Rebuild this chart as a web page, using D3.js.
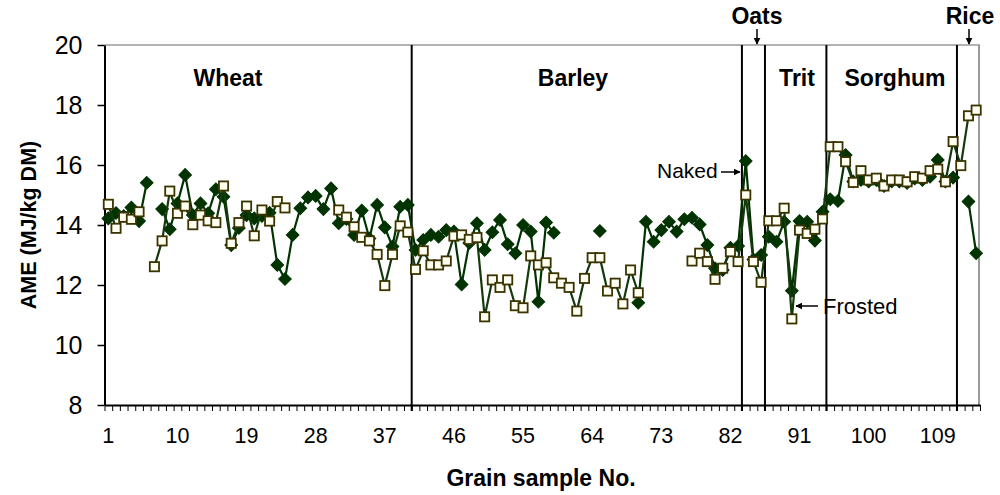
<!DOCTYPE html>
<html>
<head>
<meta charset="utf-8">
<script src="https://cdn.jsdelivr.net/npm/d3@7"></script>
<style>
  body { margin: 0; background: #fff; }
  svg { display: block; }
  text { font-family: "Liberation Sans", Arial, sans-serif; fill: #000; }
</style>
</head>
<body>
<svg id="chart" width="1000" height="495"></svg>
<script>
// Grain samples 1..114, grouped by grain type
const samples = d3.range(1, 115);

// AME (MJ/kg DM), filled-diamond series (null = no value)
const ameDiamond = [
  14.22, 14.40, 14.30, 14.58, 14.13, 15.41, null, 14.53, 13.86, 14.72,
  15.67, 14.33, 14.72, 14.39, 15.19, 14.94, 13.33, 13.90, 14.33, 14.22,
  14.30, 14.41, 12.67, 12.20, 13.67, 14.56, 14.92, 14.97, 14.53, 15.22,
  14.06, 14.20, 13.67, 14.48, 13.55, 14.67, 13.92, 13.28, 14.61, 14.67,
  13.17, 13.50, 13.67, 13.61, 13.83, 13.78, 12.02, 13.40, 14.06, 13.17,
  13.76, 14.17, 13.36, 13.06, 14.00, 13.78, 11.44, 14.08, 13.74, null,
  null, null, null, null, 13.80, null, null, null, null, 11.41,
  14.11, 13.44, 13.83, 14.11, 13.78, 14.19, 14.24, 14.02, 13.33, 12.56,
  12.50, 13.24, 13.30, 16.13, 12.85, 13.00, 13.61, 13.44, 14.11, 11.81,
  14.13, 14.11, 13.48, 14.44, 14.86, 14.80, 16.33, 15.45, 15.50, 15.45,
  15.50, 15.30, 15.45, 15.45, 15.40, 15.55, 15.50, 15.61, 16.17, 15.45,
  15.58, null, 14.78, 13.06
];

// AME (MJ/kg DM), open-square series (null = no value)
const ameSquare = [
  14.69, 13.89, 14.26, 14.19, 14.44, null, 12.61, 13.47, 15.13, 14.39,
  14.63, 14.01, 14.33, 14.14, 14.08, 15.30, 13.39, 14.08, 14.63, 13.64,
  14.50, 14.13, 14.78, 14.57, null, null, null, null, null, null,
  14.50, 14.26, 13.94, 13.59, 13.47, 13.02, 11.98, 13.02, 13.97, 13.76,
  12.52, 13.14, 12.67, 12.67, 12.80, 13.63, 13.67, 13.52, 13.58, 10.94,
  12.17, 11.92, 12.17, 11.31, 11.24, 12.97, 12.67, 12.74, 12.24, 12.06,
  11.92, 11.13, 12.22, 12.91, 12.91, 11.80, 12.06, 11.37, 12.50, 11.74,
  null, null, null, null, null, null, 12.80, 13.06, 12.78, 12.19,
  12.56, 13.11, 12.78, 15.00, 12.78, 12.09, 14.14, 14.14, 14.56, 10.87,
  13.83, 13.72, 13.86, 14.20, 16.61, 16.61, 16.11, 15.42, 15.81, 15.50,
  15.56, 15.30, 15.50, 15.50, 15.44, 15.61, 15.56, 15.81, 15.86, 15.44,
  16.78, 15.98, 17.64, 17.83
];

const xTickSamples = [1, 10, 19, 28, 37, 46, 55, 64, 73, 82, 91, 100, 109];
const yTicks = [8, 10, 12, 14, 16, 18, 20];

// Grain groups and the last sample number of each group
const groupNames = ["Wheat", "Barley", "Oats", "Trit", "Sorghum", "Rice"];
const groupLastSample = [40, 83, 86, 94, 111, 114];

// ---- layout ----
const plot = { left: 104.5, right: 980, top: 45, bottom: 405 };
const svg = d3.select("#chart");
const FONT = '"Liberation Sans", Arial, sans-serif';

const x = d3.scaleBand().domain(samples).range([plot.left, plot.right]);
const xEdge = d3.scaleLinear().domain([0, samples.length]).range([plot.left, plot.right]);
const y = d3.scaleLinear().domain([8, 20]).range([plot.bottom, plot.top]);
const cx = s => x(s) + x.bandwidth() / 2;

// plot-area border (top and right)
svg.append("line")
  .attr("x1", plot.left).attr("x2", plot.right)
  .attr("y1", plot.top).attr("y2", plot.top)
  .attr("stroke", "#9a9a9a").attr("stroke-width", 1.5);
svg.append("line")
  .attr("x1", plot.right - 1).attr("x2", plot.right - 1)
  .attr("y1", plot.top).attr("y2", plot.bottom)
  .attr("stroke", "#9a9a9a").attr("stroke-width", 2);

// group dividers
svg.append("g").selectAll("line")
  .data(groupLastSample.slice(0, -1))
  .join("line")
  .attr("x1", d => xEdge(d)).attr("x2", d => xEdge(d))
  .attr("y1", plot.top).attr("y2", plot.bottom + 6)
  .attr("stroke", "#000").attr("stroke-width", 2);

// y axis
const yAxis = svg.append("g")
  .attr("transform", `translate(${plot.left},0)`)
  .call(d3.axisLeft(y).tickValues(yTicks).tickSize(7).tickPadding(15).tickSizeOuter(0));
yAxis.select(".domain").attr("stroke", "#000").attr("stroke-width", 2);
yAxis.selectAll(".tick line").attr("stroke", "#000").attr("stroke-width", 1.5);
yAxis.selectAll("text").attr("font-family", FONT).attr("font-size", 25).attr("fill", "#000");

// x axis: tick marks between samples
const xAxis = svg.append("g")
  .attr("transform", `translate(0,${plot.bottom})`)
  .call(d3.axisBottom(xEdge).tickValues(d3.range(0, samples.length + 1))
    .tickSize(6).tickSizeOuter(0).tickFormat(""));
xAxis.select(".domain").attr("stroke", "#000").attr("stroke-width", 2);
xAxis.selectAll(".tick line").attr("stroke", "#000").attr("stroke-width", 1);

// x axis: sample-number labels
const xLabels = svg.append("g")
  .attr("transform", `translate(0,${plot.bottom})`)
  .call(d3.axisBottom(x).tickValues(xTickSamples).tickSize(0).tickPadding(23));
xLabels.select(".domain").remove();
xLabels.selectAll("text").attr("font-family", FONT).attr("font-size", 21.5).attr("fill", "#000");

// axis titles
svg.append("text")
  .attr("x", 541).attr("y", 486)
  .attr("text-anchor", "middle")
  .attr("font-size", 23).attr("font-weight", "bold")
  .text("Grain sample No.");
svg.append("text")
  .attr("transform", `translate(36,${(plot.top + plot.bottom) / 2}) rotate(-90)`)
  .attr("text-anchor", "middle")
  .attr("font-size", 21.5).attr("font-weight", "bold")
  .text("AME (MJ/kg DM)");

// series
function seriesData(vals) {
  return samples.map((s, i) => ({ s, v: vals[i] }));
}
const line = d3.line()
  .defined(d => d.v != null)
  .x(d => cx(d.s))
  .y(d => y(d.v));

const diamondData = seriesData(ameDiamond);
const squareData = seriesData(ameSquare);

// filled diamonds
svg.append("path")
  .datum(diamondData)
  .attr("d", line)
  .attr("fill", "none").attr("stroke", "#003300").attr("stroke-width", 2.2);
svg.append("g").selectAll("path")
  .data(diamondData.filter(d => d.v != null))
  .join("path")
  .attr("d", d3.symbol(d3.symbolSquare, 80))
  .attr("transform", d => `translate(${cx(d.s)},${y(d.v)}) rotate(45)`)
  .attr("fill", "#003300").attr("stroke", "#003300").attr("stroke-width", 1);

// open squares
svg.append("path")
  .datum(squareData)
  .attr("d", line)
  .attr("fill", "none").attr("stroke", "#143a0c").attr("stroke-width", 2.2);
svg.append("g").selectAll("rect")
  .data(squareData.filter(d => d.v != null))
  .join("rect")
  .attr("x", d => cx(d.s) - 4.6).attr("y", d => y(d.v) - 4.6)
  .attr("width", 9.2).attr("height", 9.2)
  .attr("fill", "#fffff2").attr("stroke", "#3b3300").attr("stroke-width", 1.8);

// group labels
const labelPos = {
  Wheat: { x: 228, y: 86 }, Barley: { x: 573, y: 86 }, Oats: { x: 757, y: 24 },
  Trit: { x: 797, y: 86 }, Sorghum: { x: 895, y: 86 }, Rice: { x: 970, y: 24 }
};
svg.append("g").selectAll("text")
  .data(groupNames)
  .join("text")
  .attr("x", d => labelPos[d].x).attr("y", d => labelPos[d].y)
  .attr("text-anchor", "middle")
  .attr("font-size", 23).attr("font-weight", "bold")
  .text(d => d);

// arrows
const defs = svg.append("defs");
defs.append("marker")
  .attr("id", "arrowHead")
  .attr("viewBox", "0 0 10 10").attr("refX", 9).attr("refY", 5)
  .attr("markerWidth", 7).attr("markerHeight", 7).attr("markerUnits", "userSpaceOnUse")
  .attr("orient", "auto")
  .append("path").attr("d", "M0,0 L10,5 L0,10 Z").attr("fill", "#000");

const arrows = [
  [757, 29, 757, 44],
  [969, 29, 969, 44],
  [721, 172, 740, 172],
  [818, 306, 796, 306]
];
svg.append("g").selectAll("line")
  .data(arrows)
  .join("line")
  .attr("x1", d => d[0]).attr("y1", d => d[1])
  .attr("x2", d => d[2]).attr("y2", d => d[3])
  .attr("stroke", "#000").attr("stroke-width", 1.5)
  .attr("marker-end", "url(#arrowHead)");

// point notes
svg.append("text").attr("x", 657).attr("y", 178)
  .attr("font-size", 21).text("Naked");
svg.append("text").attr("x", 823).attr("y", 314)
  .attr("font-size", 22).text("Frosted");
</script>
</body>
</html>
